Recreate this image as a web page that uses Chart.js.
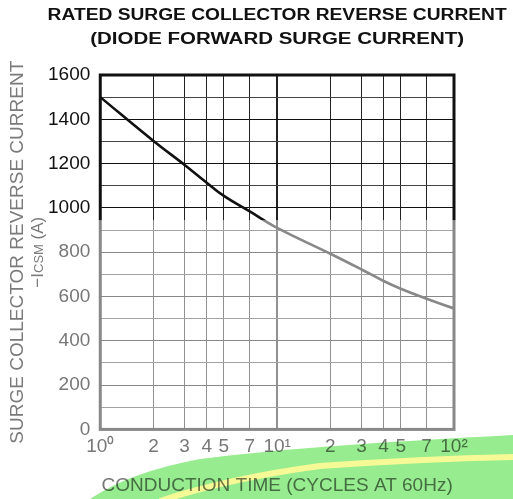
<!DOCTYPE html>
<html>
<head>
<meta charset="utf-8">
<script src="https://cdn.jsdelivr.net/npm/chart.js@4.4.1/dist/chart.umd.min.js"></script>
<style>
  html, body { margin: 0; padding: 0; background: #fff; }
  #wrap { width: 513px; height: 499px; position: relative; }
</style>
</head>
<body>
<div id="wrap"><canvas id="surgeChart"></canvas></div>
<script>
// conduction time (cycles at 60Hz) vs rated surge current (A)
const cycles = [1, 2, 3, 4, 5, 7, 10, 20, 30, 40, 50, 70, 100];
const surgeCurrent = [1500, 1302, 1194, 1114, 1054, 984, 910, 793, 722, 670, 635, 590, 546];

const xTickValues = [1, 2, 3, 4, 5, 7, 10, 20, 30, 40, 50, 70, 100];
const xTickLabels = ["10⁰", "2", "3", "4", "5", "7", "10¹", "2", "3", "4", "5", "7", "10²"];
const yTickValues = [0, 100, 200, 300, 400, 500, 600, 700, 800, 900, 1000, 1100, 1200, 1300, 1400, 1500, 1600];

const titleLines = ["RATED SURGE COLLECTOR REVERSE CURRENT", "(DIODE FORWARD SURGE CURRENT)"];
const yTitle = "SURGE COLLECTOR REVERSE CURRENT";
const xTitle = "CONDUCTION TIME (CYCLES AT 60Hz)";
const fadeBelow = 945; // the lower part of the printed graph is lighter

const FONT = "'Liberation Sans', Arial, Helvetica, sans-serif";

// frame + faded lower part, titles and the highlighter stroke
const paperPlugin = {
  id: "paper",
  afterDatasetsDraw(chart) {
    const { ctx, chartArea: a, scales: { y } } = chart;
    ctx.save();
    ctx.lineWidth = 3;
    ctx.strokeStyle = "#111";
    ctx.strokeRect(a.left, a.top, a.right - a.left, a.bottom - a.top);
    const yf = y.getPixelForValue(fadeBelow);
    ctx.fillStyle = "rgba(255,255,255,0.5)";
    ctx.fillRect(a.left - 3, yf, a.right - a.left + 6, a.bottom - yf + 3);
    ctx.restore();
  },
  afterDraw(chart) {
    const { ctx, chartArea: a } = chart;
    const cx = (a.left + a.right) / 2;

    // main title, printed a bit wide
    ctx.save();
    ctx.fillStyle = "#111";
    ctx.font = "bold 16px " + FONT;
    ctx.textAlign = "center";
    ctx.textBaseline = "alphabetic";
    ctx.translate(cx, 0);
    ctx.save();
    ctx.scale(1.2, 1);
    ctx.fillText(titleLines[0], 0, 20);
    ctx.restore();
    ctx.scale(1.28, 1);
    ctx.fillText(titleLines[1], 0, 44);
    ctx.restore();

    // y axis title, two lines
    const yc = (a.top + a.bottom) / 2;
    ctx.save();
    ctx.fillStyle = "#7a7a7a";
    ctx.translate(23, yc);
    ctx.rotate(-Math.PI / 2);
    ctx.font = "19px " + FONT;
    ctx.textAlign = "center";
    ctx.textBaseline = "alphabetic";
    ctx.fillText(yTitle, 0, 0);
    ctx.restore();

    ctx.save();
    ctx.fillStyle = "#7a7a7a";
    ctx.translate(43, yc);
    ctx.rotate(-Math.PI / 2);
    ctx.textBaseline = "alphabetic";
    ctx.textAlign = "left";
    const parts = [["−I", 17], ["CSM", 13], [" (A)", 17]];
    let total = 0;
    parts.forEach(([t, s]) => { ctx.font = s + "px " + FONT; total += ctx.measureText(t).width; });
    let x = -total / 2;
    parts.forEach(([t, s]) => {
      ctx.font = s + "px " + FONT;
      ctx.fillText(t, x, 0);
      x += ctx.measureText(t).width;
    });
    ctx.restore();

    // highlighter stroke across the bottom of the scan
    const off = document.createElement("canvas");
    off.width = chart.width;
    off.height = chart.height;
    const o = off.getContext("2d");
    o.fillStyle = "rgb(150,236,142)";
    o.beginPath();
    o.moveTo(90, 499);
    o.quadraticCurveTo(130, 472, 200, 459);
    o.quadraticCurveTo(300, 446, 513, 435);
    o.lineTo(513, 499);
    o.closePath();
    o.fill();
    o.strokeStyle = "rgb(246,250,150)";
    o.lineWidth = 6;
    o.beginPath();
    o.moveTo(160, 501);
    o.quadraticCurveTo(230, 478, 320, 466);
    o.quadraticCurveTo(420, 459, 513, 457);
    o.stroke();

    ctx.save();
    ctx.globalCompositeOperation = "multiply";
    ctx.drawImage(off, 0, 0);
    ctx.restore();
  }
};

new Chart(document.getElementById("surgeChart"), {
  type: "line",
  data: {
    datasets: [{
      data: cycles.map((c, i) => ({ x: c, y: surgeCurrent[i] })),
      borderColor: "#111",
      borderWidth: 2.6,
      pointRadius: 0,
      fill: false,
      tension: 0.4
    }]
  },
  options: {
    responsive: true,
    maintainAspectRatio: false,
    animation: false,
    layout: { padding: { top: 75, left: 38, right: 59, bottom: 2 } },
    plugins: {
      legend: { display: false },
      tooltip: { enabled: false },
      title: { display: false }
    },
    scales: {
      x: {
        type: "logarithmic",
        min: 1,
        max: 100,
        afterBuildTicks: s => { s.ticks = xTickValues.map(v => ({ value: v })); },
        ticks: {
          autoSkip: false,
          maxRotation: 0,
          padding: 6,
          color: "#777",
          font: { family: FONT, size: 19 },
          callback: (v, i) => xTickLabels[i]
        },
        grid: {
          drawTicks: false,
          color: "#222",
          lineWidth: c => (c.tick && c.tick.value === 10 ? 2 : 1)
        },
        border: { display: false },
        title: {
          display: true,
          text: xTitle,
          color: "#777",
          font: { family: FONT, size: 19 },
          padding: { top: 10, bottom: 0 }
        }
      },
      y: {
        min: 0,
        max: 1600,
        afterBuildTicks: s => { s.ticks = yTickValues.map(v => ({ value: v })); },
        ticks: {
          autoSkip: false,
          padding: 10,
          font: { family: FONT, size: 19 },
          color: c => (c.tick && c.tick.value >= 1000 ? "#111" : "#777"),
          callback: v => (v % 200 === 0 ? String(v) : "")
        },
        grid: {
          drawTicks: false,
          color: c => (c.tick && c.tick.value % 200 === 0 ? "#111" : "#444")
        },
        border: { display: false }
      }
    }
  },
  plugins: [paperPlugin]
});
</script>
</body>
</html>
